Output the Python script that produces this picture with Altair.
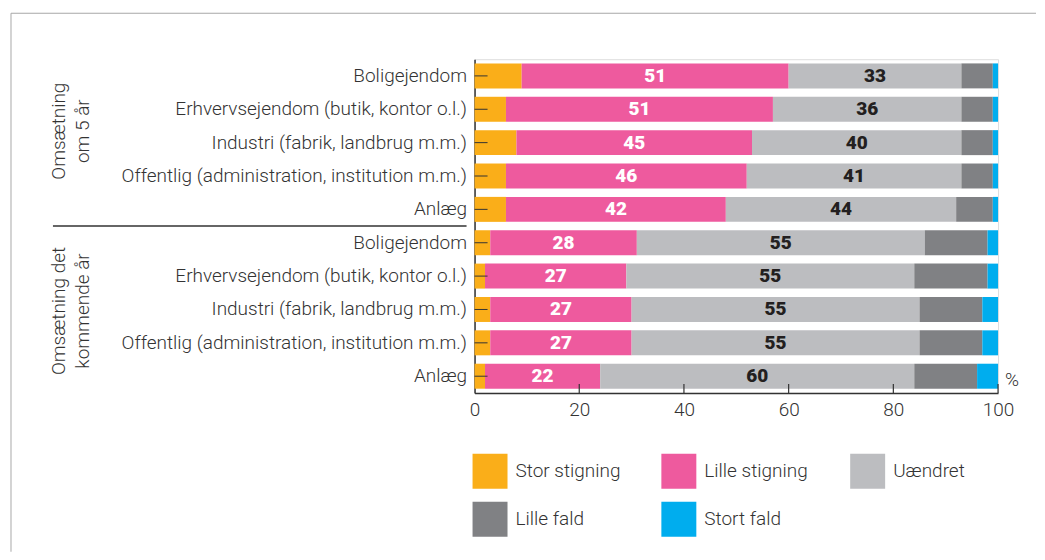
import json
import altair as alt
import pandas as pd

row_labels = [
    "Boligejendom",
    "Erhvervsejendom (butik, kontor o.l.)",
    "Industri (fabrik, landbrug m.m.)",
    "Offentlig (administration, institution m.m.)",
    "Anlæg",
    "Boligejendom",
    "Erhvervsejendom (butik, kontor o.l.)",
    "Industri (fabrik, landbrug m.m.)",
    "Offentlig (administration, institution m.m.)",
    "Anlæg",
]
series = ["Stor stigning", "Lille stigning", "Uændret", "Lille fald", "Stort fald"]
colors = ["#FAAE19", "#EE5A9E", "#BCBDC0", "#808184", "#00ADEE"]

stor_stigning = [9, 6, 8, 6, 6, 3, 2, 3, 3, 2]
lille_stigning = [51, 51, 45, 46, 42, 28, 27, 27, 27, 22]
uaendret = [33, 36, 40, 41, 44, 55, 55, 55, 55, 60]
lille_fald = [6, 6, 6, 6, 7, 12, 14, 12, 12, 12]
stort_fald = [1, 1, 1, 1, 1, 2, 2, 3, 3, 4]

group_labels = ["Omsætning\nom 5 år", "Omsætning det\nkommende år"]
x_ticks = [0, 20, 40, 60, 80, 100]

W, H = 524, 334
FONT = "Roboto"
TXT = "#333333"
FS = 19

all_series = [stor_stigning, lille_stigning, uaendret, lille_fald, stort_fald]
rows = []
for r in range(len(row_labels)):
    for k, name in enumerate(series):
        rows.append({"row": r, "k": k, "serie": name, "value": all_series[k][r]})
df = pd.DataFrame(rows)

label_expr = json.dumps(row_labels, ensure_ascii=False) + "[datum.value]"

y_enc = alt.Y(
    "row:O",
    scale=alt.Scale(paddingInner=0.25, paddingOuter=0.125),
    axis=alt.Axis(
        title=None, labelExpr=label_expr, ticks=False, labelPadding=8,
        labelFontSize=FS, labelFont=FONT, labelFontWeight=300, labelColor=TXT,
        domainColor=TXT, domainWidth=1.5, labelLimit=500,
    ),
)

base = alt.Chart(df).transform_stack(
    stack="value", as_=["x0", "x1"], groupby=["row"], sort=[alt.SortField("k")]
)

bars = base.mark_bar(size=25).encode(
    y=y_enc,
    x=alt.X(
        "x0:Q",
        scale=alt.Scale(domain=[0, 100], nice=False),
        axis=alt.Axis(
            title=None, values=x_ticks, ticks=False, grid=False, labelPadding=8,
            labelFontSize=19, labelFont=FONT, labelFontWeight=300, labelColor=TXT,
            domainColor=TXT, domainWidth=1.5, labelFlush=False,
        ),
    ),
    x2="x1:Q",
    color=alt.Color(
        "serie:N",
        scale=alt.Scale(domain=series, range=colors),
        legend=alt.Legend(
            title=None, orient="none", legendX=-2, legendY=395, columns=3,
            direction="horizontal", gridAlign="all",
            symbolType="square", symbolSize=1225, symbolStrokeWidth=0,
            symbolOpacity=1, labelFontSize=FS, labelFont=FONT, labelFontWeight=300,
            labelColor=TXT, labelOffset=8, columnPadding=40, rowPadding=13,
        ),
    ),
)

texts = base.transform_filter("datum.k == 1 || datum.k == 2").transform_calculate(
    mid="(datum.x0 + datum.x1) / 2"
).mark_text(fontSize=19, fontWeight=900, font=FONT, baseline="middle").encode(
    y=alt.Y("row:O"),
    x=alt.X("mid:Q"),
    text=alt.Text("value:Q"),
    color=alt.condition("datum.k == 1", alt.value("white"), alt.value("#231F20")),
)

ytick = alt.Chart(pd.DataFrame({"row": list(range(len(row_labels)))})).mark_rule(
    color=TXT, strokeWidth=1
).encode(y="row:O", x=alt.value(0), x2=alt.value(13))

xtick = alt.Chart(pd.DataFrame({"t": x_ticks[1:]})).mark_rule(
    color=TXT, strokeWidth=1.2
).encode(x="t:Q", y=alt.value(H - 9), y2=alt.value(H))

one = pd.DataFrame({"a": [0]})
sep = alt.Chart(one).mark_rule(color=TXT, strokeWidth=1.5).encode(
    x=alt.value(-422), x2=alt.value(-8), y=alt.value(H / 2)
)
frame_top = alt.Chart(one).mark_rule(color="#A8A8A8", strokeWidth=1).encode(
    x=alt.value(-464), x2=alt.value(562), y=alt.value(-46)
)
frame_left = alt.Chart(one).mark_rule(color="#A8A8A8", strokeWidth=1).encode(
    x=alt.value(-464), y=alt.value(-46), y2=alt.value(493)
)

g1 = alt.Chart(pd.DataFrame({"t": [group_labels[0]]})).mark_text(
    angle=270, fontSize=FS, font=FONT, fontWeight=300, color=TXT,
    align="center", baseline="middle", lineBreak="\n", lineHeight=24,
).encode(text="t:N", x=alt.value(-416), y=alt.value(72))
g2 = alt.Chart(pd.DataFrame({"t": [group_labels[1]]})).mark_text(
    angle=270, fontSize=FS, font=FONT, fontWeight=300, color=TXT,
    align="center", baseline="middle", lineBreak="\n", lineHeight=24,
).encode(text="t:N", x=alt.value(-416), y=alt.value(252))

pct = alt.Chart(pd.DataFrame({"t": ["%"]})).mark_text(
    fontSize=19, font=FONT, fontWeight=300, color=TXT, align="left", baseline="middle"
).encode(text="t:N", x=alt.value(531), y=alt.value(H - 13))

chart = alt.layer(
    frame_top, frame_left, bars, texts, ytick, xtick, sep, g1, g2, pct
).properties(
    width=W, height=H,
    padding={"left": 2, "top": 4, "right": 0, "bottom": 0},
).configure_view(stroke=None).configure(background="white")

chart.save("out.html", embed_options={"renderer": "svg", "actions": False})
